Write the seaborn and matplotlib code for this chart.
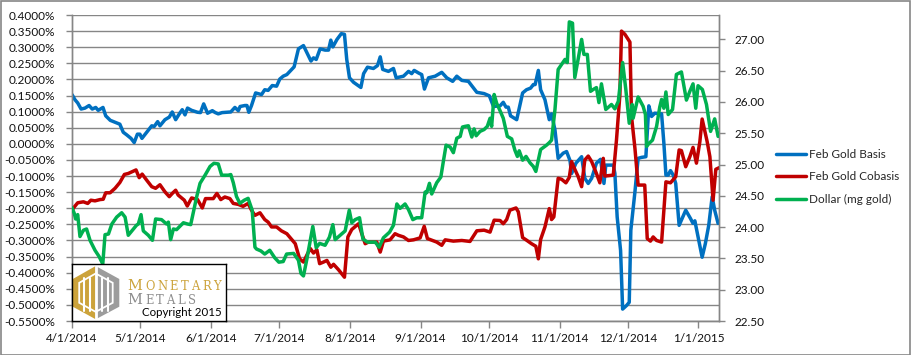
import numpy as np
import pandas as pd
import matplotlib
matplotlib.use("Agg")
import matplotlib.pyplot as plt
from matplotlib.ticker import MultipleLocator, FuncFormatter, FixedLocator
from matplotlib.patches import Polygon, Rectangle
from matplotlib.lines import Line2D
import seaborn as sns

# ---------------- data ----------------
START = "2014-04-01"   # day offsets below are calendar days since this date

basis_days = [0, 1.3, 2.5, 4, 5.7, 7.5, 8.9, 10.4, 11.5, 13.6, 14.8, 16.8, 18.9, 21, 22.5, 24, 25.9,
              27.3, 28.7, 29.8, 30.7, 32.7, 35, 36.1, 37.6, 38.6, 40.8, 42.7, 44, 45.5, 47.1, 48.4,
              49.6, 50.7, 52.5, 55.1, 56.4, 57.8, 59.5, 61.6, 62.9, 64.2, 65.9, 69.7, 71.5, 73, 73.8,
              75.9, 76.8, 77.6, 78.8, 80.6, 83.2, 84.6, 86.1, 87.9, 89.8, 91.2, 92.7, 94.3, 97.5, 99.4,
              101.6, 103.1, 104.9, 106, 107.2, 108.9, 111.1, 112.6, 113.6, 114.5, 116.3, 118.2, 119.6,
              120.6, 121.8, 123.6, 126.8, 128, 129.7, 132.3, 134.1, 135.3, 136.4, 138.9, 141.1, 142.3,
              145.5, 147.7, 149.1, 150.2, 152.1, 153.5, 154.7, 156.5, 159.4, 162.3, 164.5, 167.1,
              168.9, 171.1, 174, 177.7, 180.9, 183.2, 185, 187.9, 189.3, 190.5, 191.5, 192.5, 195.2,
              197.8, 199.5, 201.3, 202.5, 203.3, 204.7, 205.7, 207.6, 209.5, 210.5, 212, 213.4, 215.6,
              217.1, 218.6, 219.3, 221.2, 223.7, 225.1, 226.6, 228.1, 230.2, 232, 233.5, 234.3, 237.6,
              238.3, 239.3, 240.8, 241.7, 243.4, 244.6, 245.3, 247.1, 248.5, 250, 251.9, 253.2, 254.4,
              255.8, 258.8, 259.8, 260.7, 261.7, 262.7, 263.9, 265, 266.5, 269.4, 271.5, 272.6, 273.4,
              274.8, 276.6, 278, 279.5, 281, 282.1, 283.6]
basis_pct = [0.153, 0.137, 0.127, 0.108, 0.111, 0.119, 0.108, 0.113, 0.104, 0.113, 0.087, 0.073, 0.067,
             0.061, 0.036, 0.028, 0.017, 0.004, 0.030, 0.030, 0.017, 0.035, 0.056, 0.054, 0.069, 0.056,
             0.075, 0.083, 0.099, 0.075, 0.093, 0.106, 0.090, 0.111, 0.104, 0.098, 0.097, 0.124, 0.095,
             0.103, 0.097, 0.093, 0.097, 0.099, 0.113, 0.103, 0.116, 0.119, 0.119, 0.098, 0.119, 0.158,
             0.153, 0.168, 0.166, 0.181, 0.179, 0.201, 0.210, 0.215, 0.239, 0.295, 0.305, 0.283, 0.257,
             0.267, 0.262, 0.295, 0.291, 0.291, 0.322, 0.301, 0.324, 0.342, 0.340, 0.262, 0.205, 0.191,
             0.175, 0.218, 0.238, 0.234, 0.243, 0.270, 0.231, 0.225, 0.234, 0.205, 0.210, 0.225, 0.218,
             0.228, 0.220, 0.215, 0.170, 0.205, 0.210, 0.222, 0.205, 0.194, 0.210, 0.197, 0.194, 0.160,
             0.156, 0.149, 0.116, 0.118, 0.129, 0.114, 0.114, 0.087, 0.075, 0.158, 0.168, 0.173, 0.184,
             0.184, 0.228, 0.168, 0.137, 0.075, 0.093, 0.043, -0.045, -0.029, -0.024, -0.052, -0.092,
             -0.060, -0.040, -0.107, -0.123, -0.107, -0.060, -0.048, -0.123, -0.066, -0.066, -0.092,
             -0.227, -0.331, -0.513, -0.502, -0.492, -0.268, -0.149, -0.045, -0.042, -0.040, 0.118,
             0.085, 0.095, 0.093, 0.002, -0.097, -0.097, -0.083, -0.097, -0.123, -0.253, -0.206, -0.232,
             -0.247, -0.239, -0.289, -0.352, -0.310, -0.253, -0.164, -0.206, -0.247]

cobasis_days = [0, 1, 2.5, 5, 6.9, 8.3, 10.1, 12.3, 13.7, 14.8, 16.7, 18.9, 21, 23, 24.7, 26.6, 28.1,
                29.5, 30.8, 32.7, 35, 36.7, 38.6, 40.8, 42.7, 44, 45.5, 46.6, 49.3, 50.6, 52.5, 55.1,
                57.2, 58.6, 62, 63.6, 65.3, 67.1, 69.3, 70.8, 73, 75.1, 77.3, 78.8, 80.3, 82.5, 84.6,
                86.1, 87.6, 89.8, 91.9, 94.3, 98, 99.9, 101.6, 103.4, 104.6, 106, 107.5, 108.7, 110.4,
                111.9, 113.6, 114.8, 117, 119.6, 121.1, 122.8, 125.8, 127.2, 128.7, 130.1, 133.8, 135.3,
                136.7, 139.6, 141.8, 143.3, 145.5, 147.7, 149.9, 152.8, 154.6, 156, 160.1, 162.3, 163.8,
                167.4, 171.1, 174.7, 177.7, 180.9, 183.5, 185.3, 187.9, 189.3, 190.8, 192.2, 194.9,
                195.9, 197.8, 199.5, 201.7, 203.6, 204.7, 205.7, 207.6, 209.5, 210.5, 211.5, 213.4,
                214.9, 216.8, 218.3, 219.3, 220.7, 222.2, 223.7, 225.1, 226.6, 228.1, 230.2, 231.7,
                233.2, 233.9, 237.6, 239, 240.5, 241.2, 242.7, 244.9, 245.6, 247.1, 248.5, 251.4, 252.5,
                253.9, 255.1, 256.6, 258.8, 260.7, 262.7, 265, 266.5, 267.5, 269.4, 271.2, 272.6, 274.1,
                275.6, 276.6, 278.8, 280, 281.4, 282.6, 284.1]
cobasis_pct = [-0.206, -0.196, -0.183, -0.180, -0.185, -0.175, -0.177, -0.173, -0.172, -0.152, -0.152,
               -0.138, -0.120, -0.095, -0.092, -0.086, -0.081, -0.105, -0.094, -0.112, -0.133, -0.138,
               -0.127, -0.149, -0.164, -0.154, -0.144, -0.159, -0.175, -0.193, -0.168, -0.173, -0.199,
               -0.170, -0.170, -0.154, -0.173, -0.165, -0.170, -0.185, -0.188, -0.194, -0.185, -0.206,
               -0.222, -0.214, -0.235, -0.243, -0.258, -0.258, -0.270, -0.279, -0.310, -0.357, -0.367,
               -0.341, -0.325, -0.339, -0.329, -0.372, -0.367, -0.362, -0.383, -0.374, -0.391, -0.414,
               -0.289, -0.266, -0.248, -0.279, -0.310, -0.305, -0.305, -0.336, -0.302, -0.298, -0.279,
               -0.284, -0.289, -0.300, -0.298, -0.292, -0.256, -0.294, -0.305, -0.315, -0.298, -0.302,
               -0.300, -0.303, -0.270, -0.268, -0.274, -0.237, -0.238, -0.248, -0.235, -0.206, -0.199,
               -0.211, -0.291, -0.299, -0.310, -0.318, -0.357, -0.297, -0.258, -0.201, -0.235, -0.227,
               -0.107, -0.110, -0.121, -0.104, -0.055, -0.079, -0.102, -0.133, -0.050, -0.038, -0.055,
               -0.092, -0.121, -0.045, -0.100, -0.097, 0.012, 0.153, 0.350, 0.340, 0.316, 0.085, -0.014,
               -0.128, -0.128, -0.294, -0.302, -0.289, -0.300, -0.305, -0.118, -0.121, -0.102, -0.019,
               -0.021, -0.071, -0.040, -0.011, -0.060, 0.007, 0.077, 0.007, -0.040, -0.175, -0.079,
               -0.074]

dollar_days = [0, 1, 1.6, 2.5, 3.5, 5, 6.4, 7.9, 10.1, 11.9, 13.5, 14.5, 16, 17.5, 19.6, 21.8, 23.3,
               24.7, 26.5, 28.3, 29.1, 30.3, 31.3, 33.5, 35.3, 36.7, 39.3, 41.5, 42.3, 43.3, 44.5, 45.9,
               48.9, 50.7, 52.1, 54.7, 56.2, 58.4, 60.6, 62.3, 64.2, 65.7, 68.6, 69.7, 70.8, 72.2, 73.7,
               75.6, 77.3, 79.1, 80.3, 81, 82.9, 84.6, 86.8, 89, 90.8, 92.7, 94.2, 97.3, 99.4, 100.5,
               101.6, 103.1, 104.3, 105.7, 107.2, 108.7, 111.1, 113, 114.5, 115.5, 118, 119.9, 121.7,
               122.8, 124.3, 126.2, 127.7, 129.7, 133.1, 134.8, 136.7, 139.4, 141.1, 142.6, 144, 146.2,
               147.7, 149.6, 151.3, 153.5, 155, 155.7, 156.9, 157.9, 160.1, 161.9, 163, 164.2, 166,
               167.4, 168.9, 170.4, 171.4, 172.5, 174, 175.5, 176.5, 177.4, 179.1, 180.9, 182.3, 183.5,
               184.2, 185.3, 186.4, 187.9, 189.3, 191.1, 193, 194.4, 195.5, 196.3, 197.8, 199.3, 201,
               202.5, 203.6, 205.7, 208.3, 209.5, 210.5, 212, 213.4, 216.4, 217.4, 218.3, 219.7, 220.7,
               222.2, 223.7, 224.7, 226.2, 227.6, 228.8, 230.2, 231.3, 232.4, 234.3, 236.8, 238.3,
               239.8, 241.7, 243.1, 244.6, 245.9, 246.3, 248.5, 250.7, 251.7, 252.2, 253.3, 254.8,
               256.6, 258, 258.8, 259.8, 260.7, 261.7, 263.6, 265.3, 267.5, 269.7, 271.2, 272.6, 273.8,
               274.8, 276.7, 278.5, 280.3, 282.1, 283.6]
dollar_mg = [24.31, 24.22, 24.13, 24.20, 23.85, 23.95, 23.97, 23.79, 23.63, 23.53, 23.41, 23.88, 23.89,
             24.05, 24.16, 24.23, 24.16, 23.87, 23.95, 24.03, 24.05, 24.20, 23.94, 23.87, 23.79, 24.13,
             24.12, 24.05, 24.08, 23.80, 23.97, 23.96, 24.07, 24.05, 24.04, 24.48, 24.70, 24.83, 24.97,
             25.02, 25.01, 24.83, 24.83, 24.84, 24.71, 24.49, 24.38, 24.43, 24.46, 24.27, 23.68, 23.65,
             23.62, 23.57, 23.63, 23.51, 23.44, 23.45, 23.57, 23.58, 23.47, 23.26, 23.22, 23.49, 23.73,
             24.01, 23.67, 23.74, 23.71, 23.84, 24.04, 23.80, 23.88, 23.94, 24.27, 24.07, 24.12, 24.15,
             23.81, 23.76, 23.76, 23.68, 23.83, 23.92, 24.03, 24.37, 24.30, 24.37, 24.28, 24.12, 24.15,
             24.15, 24.56, 24.55, 24.70, 24.53, 24.71, 24.80, 25.05, 25.31, 25.28, 25.19, 25.42, 25.45,
             25.60, 25.61, 25.62, 25.44, 25.57, 25.46, 25.53, 25.56, 25.61, 25.74, 25.61, 26.12, 25.98,
             25.86, 25.74, 25.45, 25.41, 25.23, 25.13, 25.22, 25.07, 25.13, 25.03, 24.97, 24.89, 25.24,
             25.31, 25.35, 25.39, 25.88, 26.52, 26.68, 26.63, 27.28, 27.26, 26.39, 26.69, 27.00, 26.76,
             26.76, 26.17, 26.20, 26.23, 25.99, 26.29, 25.88, 25.96, 25.89, 26.01, 26.63, 26.20, 25.66,
             25.96, 25.74, 26.08, 25.93, 25.80, 25.29, 25.34, 25.39, 25.61, 25.92, 26.04, 25.90, 26.16,
             25.80, 25.88, 26.44, 26.48, 26.03, 26.17, 26.29, 25.90, 26.26, 26.20, 25.96, 25.53, 25.73,
             25.45]

series_names = ["Feb Gold Basis", "Feb Gold Cobasis", "Dollar (mg gold)"]
series_colors = ["#0070C0", "#C00000", "#00B050"]

x_tick_dates = ["2014-04-01", "2014-05-01", "2014-06-01", "2014-07-01", "2014-08-01", "2014-09-01",
                "2014-10-01", "2014-11-01", "2014-12-01", "2015-01-01"]
x_tick_labels = ["4/1/2014", "5/1/2014", "6/1/2014", "7/1/2014", "8/1/2014", "9/1/2014",
                 "10/1/2014", "11/1/2014", "12/1/2014", "1/1/2015"]
x_end = "2015-01-10"
left_range = (-0.55, 0.40)
right_range = (22.5, 27.39)
right_ticks = [22.5, 23.0, 23.5, 24.0, 24.5, 25.0, 25.5, 26.0, 26.5, 27.0]

# ---------------- styling ----------------
sns.set_style("white")
plt.rcParams["font.family"] = ["Lato", "DejaVu Sans"]
FS = 8.5
GRID = "#868686"

W, H = 911, 355
fig = plt.figure(figsize=(W / 100, H / 100), dpi=100)
fig.patch.set_facecolor("white")

L, R, T, B = 72, 719, 15, 321
ax = fig.add_axes([L / W, 1 - B / H, (R - L) / W, (B - T) / H])
ax2 = ax.twinx()


def to_dates(days):
    return pd.Timestamp(START) + pd.to_timedelta(np.asarray(days, dtype=float), unit="D")


df_basis = pd.DataFrame({"date": to_dates(basis_days), "value": basis_pct})
df_cob = pd.DataFrame({"date": to_dates(cobasis_days), "value": cobasis_pct})
df_dol = pd.DataFrame({"date": to_dates(dollar_days), "value": dollar_mg})

LW = 2.5
sns.lineplot(data=df_basis, x="date", y="value", ax=ax, color=series_colors[0], lw=LW,
             label=series_names[0], legend=False, zorder=3)
sns.lineplot(data=df_cob, x="date", y="value", ax=ax, color=series_colors[1], lw=LW,
             label=series_names[1], legend=False, zorder=4)
sns.lineplot(data=df_dol, x="date", y="value", ax=ax2, color=series_colors[2], lw=LW,
             label=series_names[2], legend=False, zorder=5)

ax.set_xlim(pd.Timestamp(START), pd.Timestamp(x_end))
ax.set_ylim(*left_range)
ax2.set_ylim(*right_range)

ax.yaxis.set_major_locator(MultipleLocator(0.05))


def pct_fmt(v, pos):
    v = round(v, 6)
    if abs(v) < 1e-9:
        v = 0.0
    return f"{v:.4f}%"


ax.yaxis.set_major_formatter(FuncFormatter(pct_fmt))
ax2.yaxis.set_major_locator(FixedLocator(right_ticks))
ax2.yaxis.set_major_formatter(FuncFormatter(lambda v, p: f"{v:.2f}"))

ax.set_xticks(pd.to_datetime(x_tick_dates))
ax.set_xticklabels(x_tick_labels)

for a in (ax, ax2):
    a.set_xlabel("")
    a.set_ylabel("")
    a.grid(False)
    for s in a.spines.values():
        s.set_color(GRID)
        s.set_linewidth(1.0)
    a.spines["top"].set_visible(False)

ax.yaxis.grid(True, color=GRID, lw=1.0)
ax.set_axisbelow(True)
ax2.patch.set_visible(False)

ax.tick_params(axis="y", which="major", direction="out", length=4, width=1, color=GRID,
               labelsize=FS, labelcolor="#111111", pad=8, left=True)
ax.tick_params(axis="x", which="major", direction="out", length=5, width=1, color=GRID,
               labelsize=FS, labelcolor="#111111", pad=4, bottom=True)
ax2.tick_params(axis="y", which="major", direction="out", length=4, width=1, color=GRID,
                labelsize=FS, labelcolor="#111111", pad=7, right=True)

# legend at right of the plot area
handles = [Line2D([], [], color=c, lw=LW) for c in series_colors]
fig.legend(handles, series_names, loc="center left", bbox_to_anchor=(776 / W, 1 - 177 / H),
           frameon=False, fontsize=FS, handlelength=2.5, handletextpad=0.3, labelspacing=0.95,
           borderpad=0, borderaxespad=0)

# logo box
LX, LY, LW_, LH_ = 72, 264, 154, 57
lax = fig.add_axes([LX / W, 1 - (LY + LH_) / H, LW_ / W, LH_ / H])
lax.set_xlim(0, LW_)
lax.set_ylim(LH_, 0)
lax.set_facecolor("white")
for s in lax.spines.values():
    s.set_color("black")
    s.set_linewidth(1.0)
lax.set_xticks([])
lax.set_yticks([])

GOLD = "#CCA33B"
GRAY = "#9C9C9C"
top, lt, lb, bot, rb, rt = (23.7, 2), (0.8, 15), (0.8, 42.7), (23.7, 55.3), (47.3, 42.7), (47.3, 15)
lax.add_patch(Polygon([top, lt, lb, bot], closed=True, fc=GOLD, ec="none"))
lax.add_patch(Polygon([top, rt, rb, bot], closed=True, fc=GRAY, ec="none"))
lax.plot([23.7, 23.7], [1, 56], color="white", lw=2.0)
cx, cy = 23.7, 28.7
inner = [(cx + 0.72 * (px - cx), cy + 0.72 * (py - cy)) for px, py in [top, lt, lb, bot, rb, rt]]
lax.add_patch(Polygon(inner, closed=True, fc="none", ec="white", lw=1.3))
for xb in [12.0, 18.0, 29.5, 35.5]:
    lax.plot([xb, xb], [14, 47], color="white", lw=1.5)

SERIF = "DejaVu Serif"


def small_caps(x, y, word, color, big, small, gap):
    prev = lax.text(x, y, word[0], fontsize=big, color=color, family=SERIF, va="bottom", ha="left")
    for ch in word[1:]:
        prev = lax.annotate(ch, xy=(1, 0), xycoords=prev, xytext=(gap, 0), textcoords="offset points",
                            fontsize=small, color=color, family=SERIF, va="bottom", ha="left")


small_caps(55.5, 29, "MONETARY", GOLD, 10.5, 8.3, 1.9)
small_caps(55.5, 43, "METALS", "#8C8C8C", 10.5, 8.3, 1.9)
lax.text(150, 51.5, "Copyright 2015", fontsize=8.3, color="black", ha="right", va="baseline")

# outer chart border
fig.add_artist(Rectangle((0.5 / W, 0.5 / H), 1 - 1.5 / W, 1 - 1.5 / H, transform=fig.transFigure,
                         fill=False, ec=GRID, lw=1.2))

fig.savefig("out.png", dpi=100)
